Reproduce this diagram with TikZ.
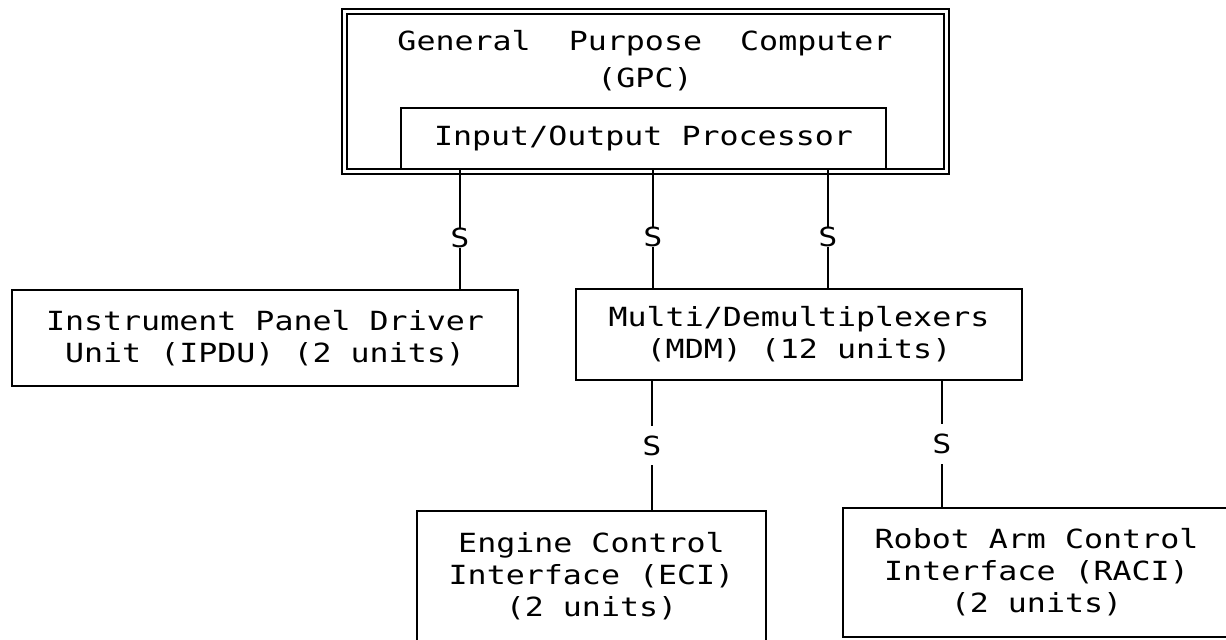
\documentclass[tikz,border=0pt]{standalone}
\usepackage{fontspec}
\setmonofont[FakeStretch=1.2]{DejaVu Sans Mono}

\begin{document}
\begin{tikzpicture}[x=0.02cm, y=-0.02cm, line width=0.9pt,
  font={\ttfamily\fontsize{15}{18.2}\selectfont},
  unit/.style={draw, align=center, inner sep=0pt},
  sbus/.style={fill=white, inner sep=0pt},
  sgap/.style={fill=white, inner xsep=0pt, inner ysep=0.2cm}]

\useasboundingbox (0,0) rectangle (1226,639);
% computer with its I/O processor
\node[draw, double, double distance=1.9pt, minimum width=12.04cm, minimum height=3.2cm] (gpc) at (645.5,91.5) {};
\node[align=center] (gpcname) at (645,61) {General~~Purpose~~Computer\\[0.1cm](GPC)};
\node[unit, minimum width=9.7cm, minimum height=1.22cm] (iop) at (643.5,138.5) {Input/Output Processor};
% units on the buses
\node[unit, minimum width=10.12cm, minimum height=1.92cm] (ipdu) at (265,338) {Instrument Panel Driver\\Unit (IPDU) (2 units)};
\node[unit, minimum width=8.92cm, minimum height=1.82cm] (mdm) at (799,334.5) {Multi/Demultiplexers\\(MDM) (12 units)};
\node[unit, minimum width=6.98cm, minimum height=2.6cm] (eci) at (591.5,576) {Engine Control\\Interface (ECI)\\(2 units)};
\node[unit, minimum width=7.74cm, minimum height=2.58cm] (raci) at (1036.5,572.5) {Robot Arm Control\\Interface (RACI)\\(2 units)};
% serial buses
\foreach \xb/\dst in {460/ipdu, 653/mdm, 828/mdm}
\draw (iop.south -| \xb,0) -- node[sbus, pos=0.57] {S} (\dst.north -| \xb,0);
\foreach \xb/\dst in {652/eci, 942/raci}
\draw (mdm.south -| \xb,0) -- node[sgap] {S} (\dst.north -| \xb,0);
\end{tikzpicture}
\end{document}
